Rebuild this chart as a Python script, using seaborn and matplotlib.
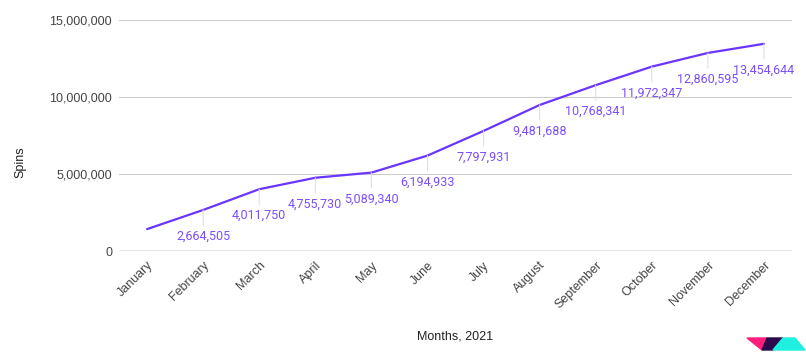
import matplotlib
matplotlib.use('Agg')
import matplotlib.pyplot as plt
import matplotlib.patches as mpatches
import matplotlib.ticker as mticker
import seaborn as sns
import pandas as pd

# ── Data ──────────────────────────────────────────────────────────────────────
months = ['January', 'February', 'March', 'April', 'May', 'June', 'July',
          'August', 'September', 'October', 'November', 'December']
spins = [1420000, 2664505, 4011750, 4755730, 5089340, 6194933, 7797931,
         9481688, 10768341, 11972347, 12860595, 13454644]
show_label = [False] + [True] * 11
y_ticks = [0, 5000000, 10000000, 15000000]

df = pd.DataFrame({'month': months, 'spins': spins})

LINE = '#6a35ff'
LABEL = '#7c4dff'
TICK = '#444444'

sns.set_style('white')
plt.rcParams['font.family'] = ['Liberation Sans', 'DejaVu Sans']

fig = plt.figure(figsize=(8.06, 3.56), dpi=100)
ax = fig.add_axes([119 / 806, 1 - 251 / 356, (792 - 119) / 806, (251 - 20) / 356])

# gridlines
for t in y_ticks[1:]:
    ax.axhline(t, color='#cccccc', linewidth=0.8, zorder=0)
ax.axhline(0, color='#333333', linewidth=0.9, zorder=1)

sns.lineplot(data=df, x='month', y='spins', sort=False, color=LINE,
             linewidth=1.6, ax=ax, zorder=3)

# value labels under the points with a thin stem
for i, (m, v) in enumerate(zip(months, spins)):
    if not show_label[i]:
        continue
    ax.annotate(f'{v:,}', xy=(i, v), xytext=(0, -19), textcoords='offset points',
                ha='center', va='center', fontsize=9, color=LABEL,
                family=['Roboto', 'DejaVu Sans'], zorder=4,
                arrowprops=dict(arrowstyle='-', color='#e0e0e0', lw=0.8,
                                shrinkA=1, shrinkB=0))

ax.set_xlim(-0.5, len(months) - 0.5)
ax.set_ylim(0, 15000000)
ax.set_yticks(y_ticks)
ax.yaxis.set_major_formatter(mticker.FuncFormatter(lambda v, p: f'{int(v):,}'))
ax.tick_params(axis='y', length=0, pad=5, labelsize=9, labelcolor=TICK)
ax.tick_params(axis='x', length=0, pad=6, labelsize=9, labelcolor=TICK)
for lbl in ax.get_xticklabels():
    lbl.set_rotation(45)
    lbl.set_ha('right')
    lbl.set_va('top')
    lbl.set_rotation_mode('anchor')

for s in ax.spines.values():
    s.set_visible(False)

ax.set_xlabel('Months, 2021', fontsize=9, color='#222222')
ax.xaxis.set_label_coords(0.5, -0.342)
ax.set_ylabel('Spins', fontsize=9, color='#222222')
ax.yaxis.set_label_coords(-0.137, 0.385)

# small logo in the bottom right corner
def px(pts):
    return [(x / 806, 1 - y / 356) for x, y in pts]

logo = [
    ([(747, 338), (767, 338), (762, 350)], '#ff1f7a'),
    ([(767, 338), (783, 338), (773, 350), (762, 350)], '#2a0a4a'),
    ([(783, 338), (795, 338), (805, 350), (773, 350)], '#1ff0e0'),
]
for pts, col in logo:
    fig.patches.append(mpatches.Polygon(px(pts), closed=True, color=col,
                                        transform=fig.transFigure, figure=fig))

fig.savefig('out.png', dpi=100)
